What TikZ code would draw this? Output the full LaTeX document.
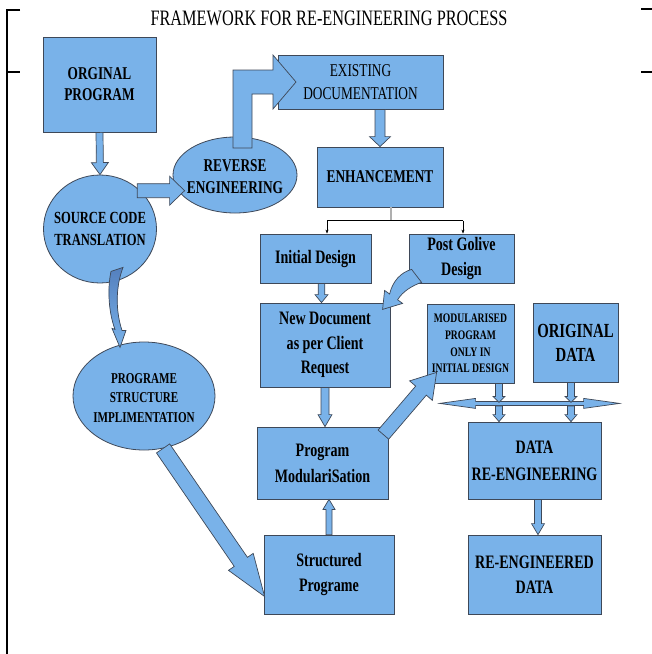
\documentclass[tikz,border=0pt]{standalone}
\usepackage{fontspec}
\setmainfont{Liberation Serif}[FakeStretch=0.74]
\usetikzlibrary{shapes.geometric, arrows.meta, calc}
\definecolor{boxblue}{RGB}{121,178,233}
\definecolor{edgegray}{RGB}{62,72,88}
\definecolor{darkarrow}{RGB}{84,128,190}
\definecolor{splitgray}{RGB}{175,175,175}

\newcommand{\blockarrow}[5]{%
  \coordinate (hb) at ($(#2)!#5!(#1)$);
  \filldraw[barrow] ($(#1)!#3!90:(#2)$) -- ($(hb)!#3!90:(#2)$) -- ($(hb)!#4!90:(#2)$)
    -- (#2) -- ($(hb)!#4!-90:(#2)$) -- ($(hb)!#3!-90:(#2)$) -- ($(#1)!#3!-90:(#2)$) -- cycle;}

\begin{document}
\begin{tikzpicture}[x=1pt, y=-1pt,
    box/.style={draw=edgegray, fill=boxblue, rectangle, inner sep=0pt, align=center, line width=0.8pt},
    oval/.style={draw=edgegray, fill=boxblue, ellipse, inner sep=0pt, line width=0.8pt},
    barrow/.style={draw=edgegray, fill=boxblue, line width=0.7pt, line join=miter},
    txt/.style 2 args={align=center, font=\bfseries\fontsize{#1}{#2}\selectfont},
    frame/.style={line width=1.8pt}]

    \useasboundingbox (0,0) rectangle (652,654);

    \draw[frame] (20,10) -- (7,10) -- (7,654);
    \draw[frame] (7,72) -- (20,72);
    \draw[frame] (641,9) -- (652,9);
    \draw[frame] (641,72) -- (652,72);

    \node (title) at (329,18) [font=\fontsize{22}{24}\selectfont] {FRAMEWORK FOR RE-ENGINEERING PROCESS};

    \node (orig) at (99.5,84.5) [box, txt={18}{21}, minimum width=113pt, minimum height=95pt] {ORGINAL\\PROGRAM};
    \node (src) at (100,229) [oval, minimum width=113pt, minimum height=108pt] {};
    \node (srctxt) at (src) [txt={17}{22}] {SOURCE CODE\\TRANSLATION};
    \node (rev) at (235,175) [oval, minimum width=124pt, minimum height=76pt] {};
    \node (revtxt) at (235,177) [txt={18}{22}] {REVERSE\\ENGINEERING};
    \node (exist) at (360.5,82) [box, font=\fontsize{18}{23}\selectfont, minimum width=165pt, minimum height=54pt] {EXISTING\\DOCUMENTATION};
    \node (enh) at (380,177) [box, txt={18}{21}, minimum width=126pt, minimum height=60pt] {ENHANCEMENT};
    \node (init) at (315.5,258.5) [box, txt={19}{25}, minimum width=111pt, minimum height=49pt] {Initial Design};
    \node (post) at (461.5,258.5) [box, txt={19}{25}, minimum width=105pt, minimum height=49pt] {Post Golive\\Design};
    \node (newdoc) at (325,345) [box, txt={19}{24.5}, minimum width=130pt, minimum height=84pt] {New Document\\as per Client\\Request};
    \node (modprog) at (470.5,343.5) [box, txt={13}{16.7}, minimum width=87pt, minimum height=79pt] {MODULARISED\\PROGRAM\\ONLY IN\\INITIAL DESIGN};
    \node (origdata) at (575.5,342.5) [box, txt={20}{24}, minimum width=85pt, minimum height=79pt] {ORIGINAL\\DATA};
    \node (prog) at (144,396) [oval, minimum width=142pt, minimum height=108pt] {};
    \node (progtxt) at (144,398) [txt={15}{19.5}] {PROGRAME\\STRUCTURE\\IMPLIMENTATION};
    \node (progmod) at (322.5,463) [box, txt={19}{26}, minimum width=131pt, minimum height=72pt] {Program\\ModulariSation};
    \node (datare) at (534.5,460.5) [box, txt={19}{27}, minimum width=133pt, minimum height=77pt] {DATA\\RE-ENGINEERING};
    \node (struct) at (329,574.5) [box, txt={19}{25}, minimum width=130pt, minimum height=79pt] {Structured\\Programe};
    \node (reeng) at (534.5,574.5) [box, txt={19}{25}, minimum width=133pt, minimum height=79pt] {RE-ENGINEERED\\DATA};

    \blockarrow{orig.south}{src.north}{3.5pt}{8.5pt}{12pt}
    \coordinate (srcout) at ($(src.45)+(-2,1)$);
    \coordinate (revin) at ($(srcout -| rev.west)+(12,0)$);
    \blockarrow{srcout}{revin}{7pt}{14.5pt}{15pt}

    \begin{scope}[shift={(rev.north |- exist.west)}]
      \filldraw[barrow] (-2,66) -- (-2,-12) -- (38,-12) -- (38,-27) -- (61,0) -- (38,27) -- (38,12) -- (17,12) -- (17,66) -- cycle;
    \end{scope}

    \blockarrow{enh.north |- exist.south}{enh.north}{5pt}{10.5pt}{10pt}

    \draw[splitgray, line width=1.2pt] ($(enh.south)+(11,0)$) -- ($(enh.south)+(11,14)$);
    \coordinate (sl) at ($(init.north)+(11.5,-13)$);
    \coordinate (sr) at ($(post.north)+(1.5,-13)$);
    \draw[line width=0.6pt] (sl) -- (sr);
    \draw[line width=0.6pt, -{Stealth[length=4pt, width=3pt]}] (sl) -- (sl |- init.north);
    \draw[line width=0.6pt, -{Stealth[length=4pt, width=3pt]}] (sr) -- (sr |- post.north);

    \coordinate (i1) at ($(init.south)+(6,0)$);
    \blockarrow{i1}{i1 |- newdoc.north}{3.3pt}{6.5pt}{8pt}

    \begin{scope}[shift={(post.south west)}]
      \filldraw[barrow] (3,-14) .. controls (-8,-11) and (-16,-2) .. (-19,10.6) -- (-24,7) -- (-26,26) -- (-6,20) -- (-11,16.4) .. controls (-6,8) and (4,2) .. (13,-1) -- cycle;
    \end{scope}

    \begin{scope}[shift={(src.south)}]
      \filldraw[barrow, top color=darkarrow, bottom color=boxblue] (11,-12) .. controls (7,7) and (9,30) .. (15,46) -- (12,45) -- (20,64) -- (26,47) -- (22,47) .. controls (16,29) and (15,5) .. (23,-16) -- cycle;
    \end{scope}

    \blockarrow{newdoc.south}{newdoc.south |- progmod.north}{4pt}{7pt}{12pt}
    \blockarrow{struct.north}{struct.north |- progmod.south}{3pt}{6pt}{10pt}

    \coordinate (pgtip) at ($(struct.west)+(1,22)$);
    \blockarrow{prog.290}{pgtip}{8pt}{15pt}{42pt}

    \coordinate (pmfoot) at ($(progmod.north east)+(-5,8)$);
    \coordinate (mptip) at ($(modprog.south west)+(10,-11)$);
    \blockarrow{pmfoot}{mptip}{7pt}{15pt}{24pt}

    \coordinate (dl) at ($(modprog.south west)+(13,20)$);
    \begin{scope}[shift={(dl)}]
      \filldraw[barrow] (0,0) -- (36,-5) -- (36,-2) -- (144,-2) -- (144,-5) -- (180,0) -- (144,5) -- (144,2) -- (36,2) -- (36,5) -- cycle;
    \end{scope}

    \coordinate (m1) at ($(modprog.south)+(28.5,0)$);
    \coordinate (m2) at ($(origdata.south)+(-4.5,0)$);
    \foreach \c in {m1,m2} {
      \coordinate (\c-up) at ($(\c |- dl)+(0,-1)$);
      \coordinate (\c-dn) at ($(\c |- dl)+(0,2.5)$);
      \blockarrow{\c}{\c-up}{3.5pt}{6pt}{6pt}
      \blockarrow{\c-dn}{\c |- datare.north}{3.5pt}{6pt}{7pt}
    }

    \coordinate (d1) at ($(datare.south)+(3.5,0)$);
    \blockarrow{d1}{d1 |- reeng.north}{3.5pt}{6.5pt}{11pt}
\end{tikzpicture}
\end{document}
